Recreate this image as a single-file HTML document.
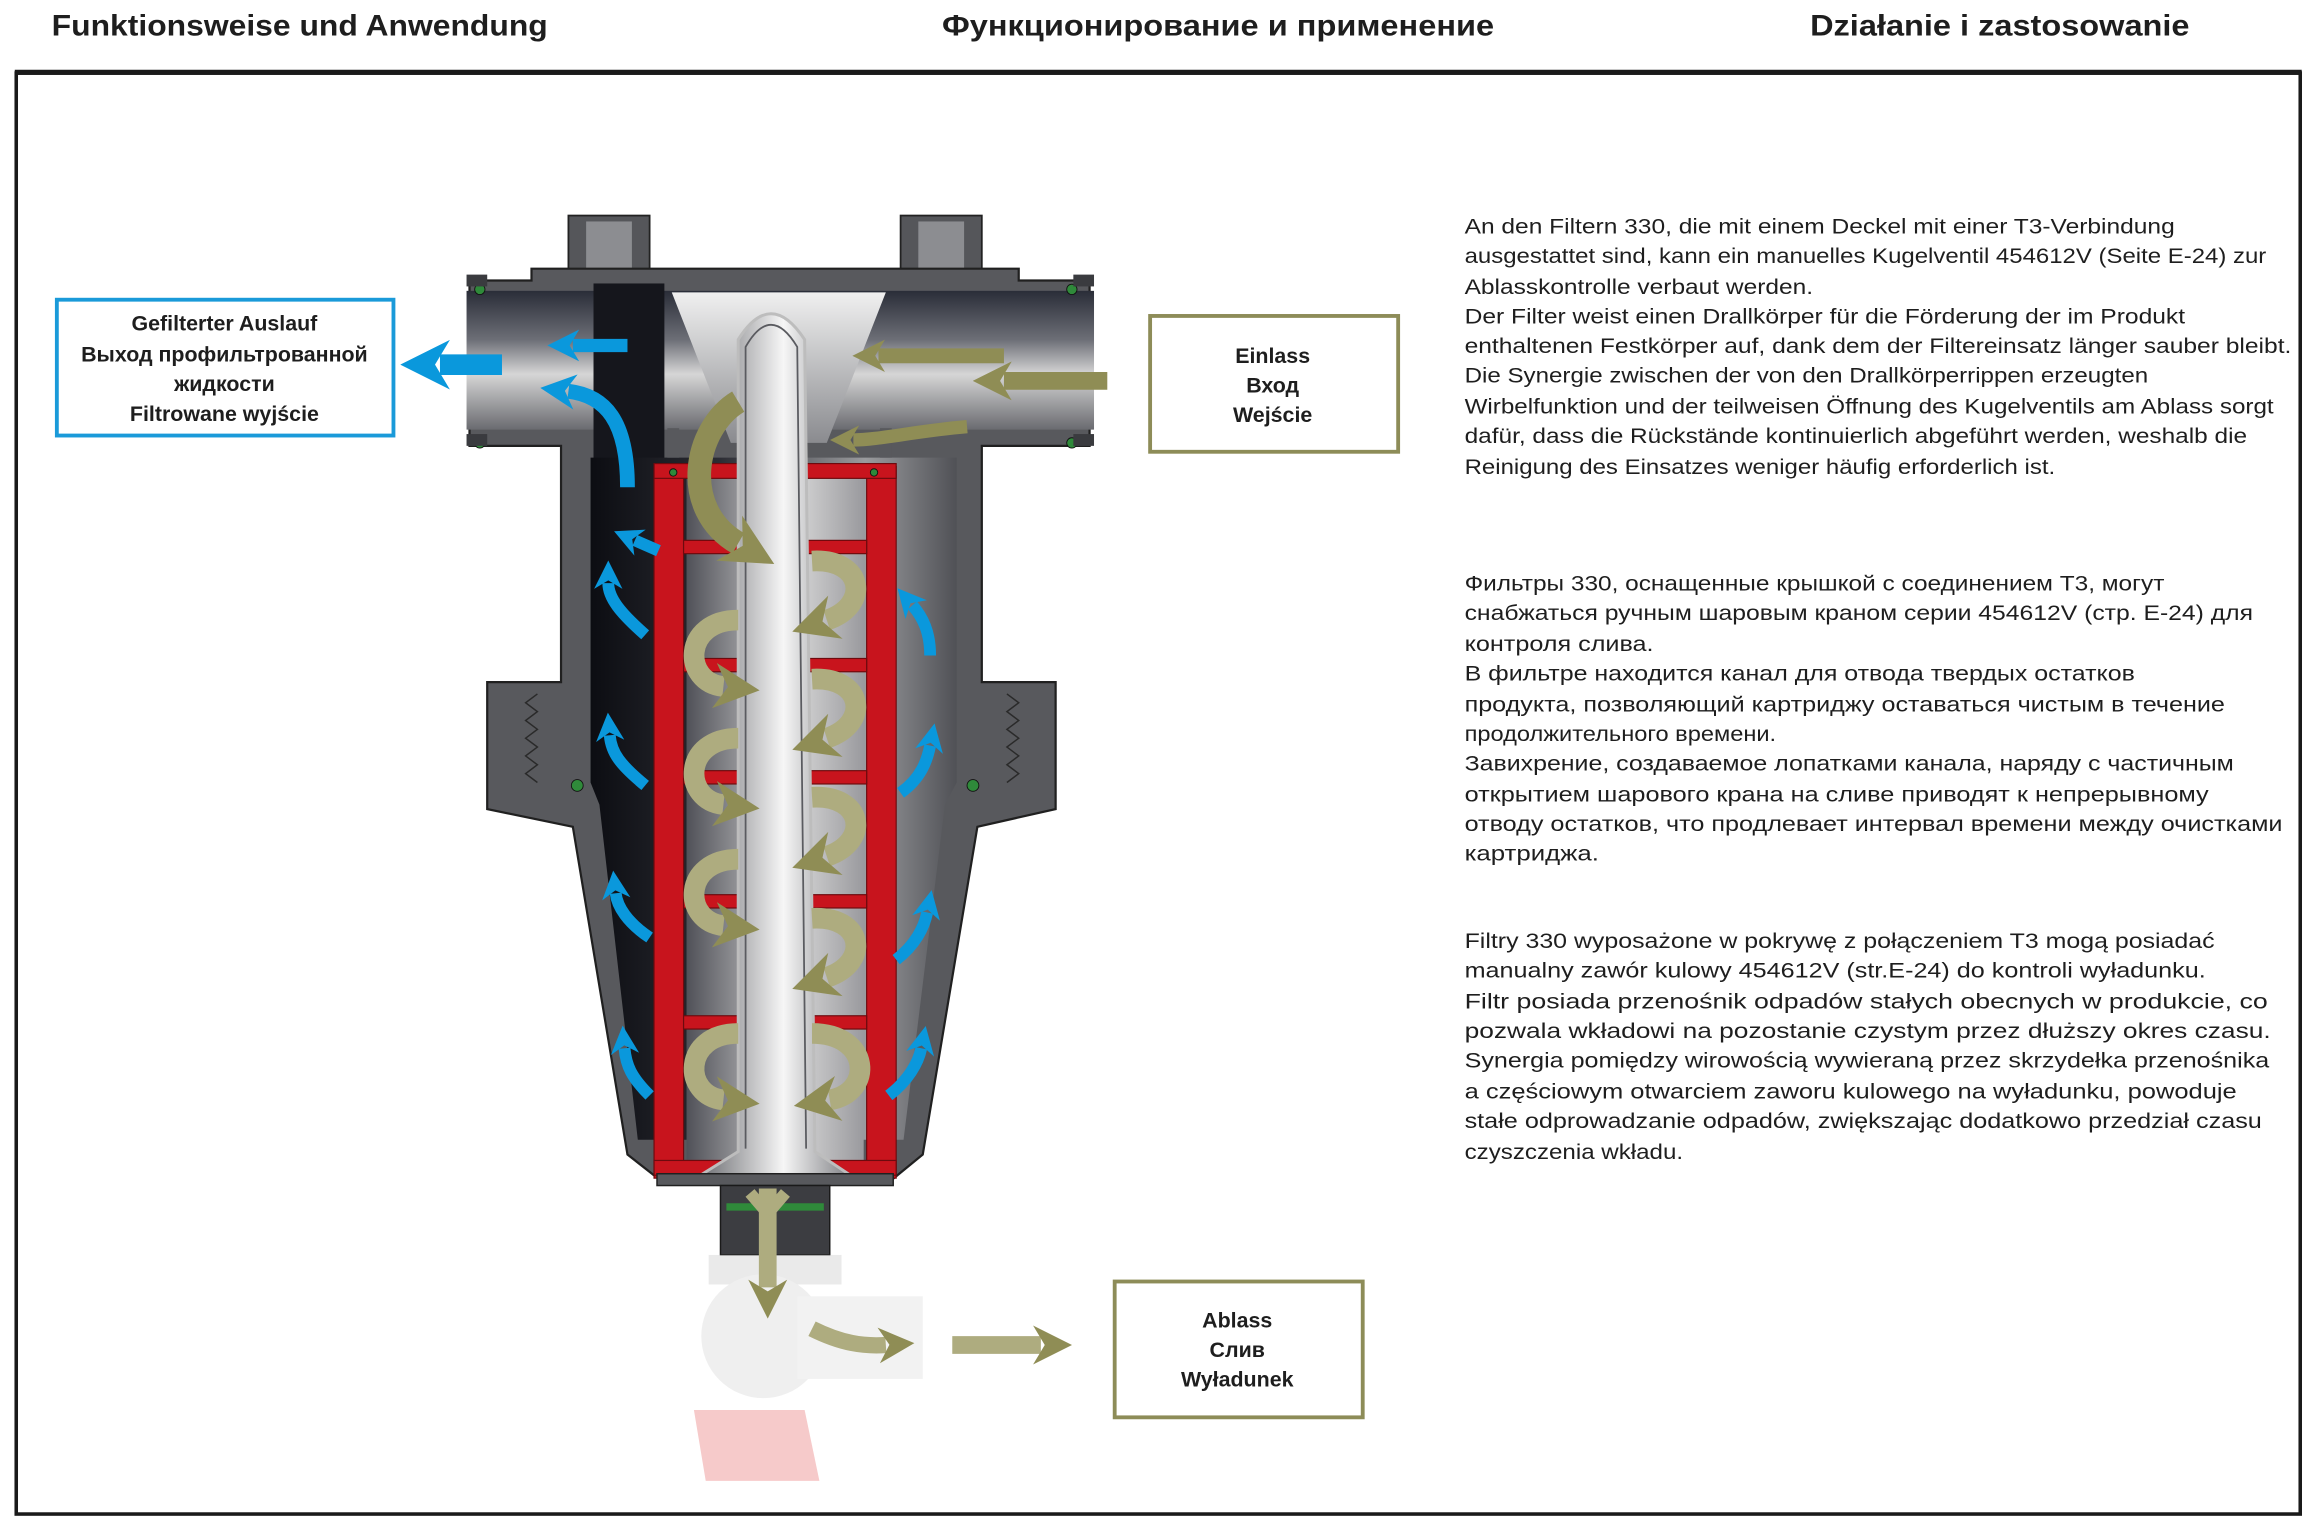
<!DOCTYPE html>
<html><head><meta charset="utf-8"><style>
html,body{margin:0;padding:0;background:#fff;}
svg{display:block;}
text{font-family:"Liberation Sans","DejaVu Sans",sans-serif;fill:#1e1e1e;}
</style></head><body>
<svg width="2315" height="1526" viewBox="0 0 1568 1033.6" preserveAspectRatio="none" xmlns="http://www.w3.org/2000/svg">
<defs>
<marker id="mb" viewBox="0 0 10 10" refX="2" refY="5" markerWidth="2.4" markerHeight="2.6" orient="auto" markerUnits="strokeWidth"><path d="M0,0 L10,5 L0,10 L3,5 Z" fill="#0a98dc"/></marker>
<marker id="mo" viewBox="0 0 10 10" refX="2" refY="5" markerWidth="2.2" markerHeight="2.4" orient="auto" markerUnits="strokeWidth"><path d="M0,0 L10,5 L0,10 L3,5 Z" fill="#8f8d55"/></marker>
<linearGradient id="pipe" x1="0" y1="0" x2="0" y2="1"><stop offset="0" stop-color="#2a2d38"/><stop offset="0.35" stop-color="#6c6e76"/><stop offset="0.6" stop-color="#d6d6d6"/><stop offset="1" stop-color="#6a6b70"/></linearGradient>
<linearGradient id="cav" x1="0" y1="0" x2="1" y2="0"><stop offset="0" stop-color="#0c0d12"/><stop offset="0.35" stop-color="#2b2c33"/><stop offset="0.75" stop-color="#9a9b9e"/><stop offset="1" stop-color="#505156"/></linearGradient>
<linearGradient id="tube" x1="0" y1="0" x2="1" y2="0"><stop offset="0" stop-color="#5d5e63"/><stop offset="0.55" stop-color="#f6f6f6"/><stop offset="1" stop-color="#707176"/></linearGradient>
<linearGradient id="mesh" x1="0" y1="0" x2="1" y2="0"><stop offset="0" stop-color="#505158"/><stop offset="0.6" stop-color="#d8d8d8"/><stop offset="1" stop-color="#9a9a9e"/></linearGradient>
<linearGradient id="cone" x1="0" y1="0" x2="0" y2="1"><stop offset="0" stop-color="#f0f0f0"/><stop offset="1" stop-color="#8a8b8f"/></linearGradient>
</defs>

<text x="35" y="24" font-size="20" font-weight="bold" textLength="336" lengthAdjust="spacingAndGlyphs">Funktionsweise und Anwendung</text>
<text x="638" y="24" font-size="20" font-weight="bold" textLength="374" lengthAdjust="spacingAndGlyphs">Функционирование и применение</text>
<text x="1226" y="24" font-size="20" font-weight="bold" textLength="257" lengthAdjust="spacingAndGlyphs">Działanie i zastosowanie</text>

<rect x="11" y="49.5" width="1547" height="976" fill="none" stroke="#1a1a1a" stroke-width="2.4"/>
<line x1="10" y1="49" x2="1559" y2="49" stroke="#1a1a1a" stroke-width="3.5"/>

<rect x="385" y="146" width="55" height="44" fill="#55565a" stroke="#222" stroke-width="1.2"/>
<rect x="397" y="150" width="31" height="38" fill="#8c8d91"/>
<rect x="610" y="146" width="55" height="44" fill="#55565a" stroke="#222" stroke-width="1.2"/>
<rect x="622" y="150" width="31" height="38" fill="#8c8d91"/>
<path d="M360,182 L690,182 L690,190 L738,190 L738,302 L665,302 L665,462 L715,462 L715,548 L662,560 L625,782 L603,800 L448,800 L425,782 L388,560 L330,548 L330,462 L380,462 L380,302 L318,302 L318,190 L360,190 Z" fill="#58595d" stroke="#202020" stroke-width="1.5"/>
<g stroke="#2a2a2a" stroke-width="1" fill="none">
<path d="M364,470 l-8,6 l8,6 l-8,6 l8,6 l-8,6 l8,6 l-8,6 l8,6 l-8,6 l8,6"/>
<path d="M682,470 l8,6 l-8,6 l8,6 l-8,6 l8,6 l-8,6 l8,6 l-8,6 l8,6 l-8,6"/>
</g>
<rect x="316" y="197" width="425" height="94" fill="url(#pipe)"/>
<rect x="402" y="192" width="48" height="120" fill="#15161c"/>
<path d="M400,310 L648,310 L648,530 L640,545 L612,772 L432,772 L406,545 L400,530 Z" fill="url(#cav)"/>
<rect x="465" y="322" width="120" height="468" fill="url(#mesh)"/>
<path d="M455,198 L600,198 L560,300 L495,300 Z" fill="url(#cone)"/>
<rect x="452" y="290" width="8" height="20" fill="#58595d"/>
<rect x="596" y="290" width="8" height="20" fill="#58595d"/>
<g fill="#c8141d" stroke="#6e0a0e" stroke-width="0.8">
<rect x="443" y="316" width="20" height="482"/>
<rect x="587" y="316" width="20" height="482"/>
<rect x="443" y="314" width="164" height="10"/>
<rect x="443" y="786" width="164" height="10"/>
<rect x="463" y="366" width="124" height="9"/>
<rect x="463" y="446" width="124" height="9"/>
<rect x="463" y="522" width="124" height="9"/>
<rect x="463" y="606" width="124" height="9"/>
<rect x="463" y="688" width="124" height="9"/>
</g>
<path d="M500,780 L500,230 Q522,195 545,230 L552,780 L582,800 L468,800 Z" fill="url(#tube)" stroke="#bdbdbd" stroke-width="2"/>
<path d="M505,778 L505,235 Q522,205 540,235 L546,778" fill="none" stroke="#5a5b60" stroke-width="1.2"/>
<rect x="445" y="795" width="160" height="8" fill="#58595d" stroke="#202020" stroke-width="1"/>
<path d="M488,803 L562,803 L562,850 L488,850 Z" fill="#3c3d41" stroke="#1a1a1a" stroke-width="1"/>
<rect x="492" y="815" width="66" height="5" fill="#2f8a3a"/>
<g opacity="0.55">
<rect x="480" y="850" width="90" height="20" fill="#d9d9d9"/>
<circle cx="517" cy="905" r="42" fill="#e2e2e2"/>
<rect x="540" y="878" width="85" height="56" fill="#e8e8e8"/>
<path d="M470,955 L545,955 L555,1003 L478,1003 Z" fill="#f0a0a0"/>
</g>
<g fill="#2f8a3a" stroke="#111" stroke-width="0.6">
<circle cx="325" cy="196" r="3.5"/><circle cx="325" cy="300" r="3.5"/>
<circle cx="726" cy="196" r="3.5"/><circle cx="726" cy="300" r="3.5"/>
<circle cx="391" cy="532" r="4"/><circle cx="659" cy="532" r="4"/>
<circle cx="456" cy="320" r="2.5"/><circle cx="592" cy="320" r="2.5"/>
</g>

<g fill="none" stroke="#0a98dc" stroke-linecap="butt">
<path d="M340,247 L298,247" stroke-width="14" marker-end="url(#mb)"/>
<path d="M425,234 L388,234" stroke-width="9" marker-end="url(#mb)"/>
<path d="M425,330 C425,285 410,268 385,265" stroke-width="10" marker-end="url(#mb)"/>
<path d="M446,373 L430,366" stroke-width="8" marker-end="url(#mb)"/>
<path d="M437,430 C420,415 412,405 412,395" stroke-width="8" marker-end="url(#mb)"/>
<path d="M437,532 C420,518 414,510 413,498" stroke-width="8" marker-end="url(#mb)"/>
<path d="M440,635 C425,625 418,614 417,605" stroke-width="8" marker-end="url(#mb)"/>
<path d="M440,742 C428,730 424,722 423,710" stroke-width="8" marker-end="url(#mb)"/>
<path d="M630,444 C630,428 625,418 618,410" stroke-width="8" marker-end="url(#mb)"/>
<path d="M610,537 C624,527 628,515 630,505" stroke-width="8" marker-end="url(#mb)"/>
<path d="M607,650 C620,640 626,628 628,618" stroke-width="8" marker-end="url(#mb)"/>
<path d="M602,742 C615,732 622,720 624,710" stroke-width="8" marker-end="url(#mb)"/>
</g>
<g fill="none" stroke="#8f8d55">
<path d="M750,258 L680,258" stroke-width="12" marker-end="url(#mo)"/>
<path d="M680,241 L595,241" stroke-width="10" marker-end="url(#mo)"/>
<path d="M655,289 C620,292 595,298 578,298" stroke-width="9" marker-end="url(#mo)"/>
<path d="M500,272 C470,290 460,345 500,368" stroke-width="16" marker-end="url(#mo)"/>
</g>
<g fill="none" stroke="#aeac7f" stroke-width="14">
<path d="M550,380 C585,378 590,410 560,420" marker-end="url(#mo)"/>
<path d="M500,420 C462,420 462,462 490,465" marker-end="url(#mo)"/>
<path d="M550,460 C585,458 590,490 560,500" marker-end="url(#mo)"/>
<path d="M500,500 C462,500 462,542 490,545" marker-end="url(#mo)"/>
<path d="M550,540 C585,538 590,570 560,580" marker-end="url(#mo)"/>
<path d="M500,582 C462,582 462,624 490,627" marker-end="url(#mo)"/>
<path d="M550,622 C585,620 590,652 560,662" marker-end="url(#mo)"/>
<path d="M500,700 C462,700 462,742 490,745" marker-end="url(#mo)"/>
<path d="M550,700 C590,700 592,740 562,745" marker-end="url(#mo)"/>
<path d="M520,805 L520,872" stroke-width="12" marker-end="url(#mo)"/>
<path d="M520,822 L508,808 M520,822 L532,808" stroke-width="8"/>
<path d="M550,900 C570,910 585,912 600,911" stroke-width="11" marker-end="url(#mo)"/>
<path d="M645,911 L705,911" stroke-width="12" marker-end="url(#mo)"/>
</g>

<rect x="38.5" y="203" width="228" height="92" fill="#fff" stroke="#1a9ad9" stroke-width="2.6"/>
<g font-size="14.5" font-weight="bold" text-anchor="middle">
<text x="152" y="224">Gefilterter Auslauf</text>
<text x="152" y="245">Выход профильтрованной</text>
<text x="152" y="265">жидкости</text>
<text x="152" y="285">Filtrowane wyjście</text>
</g>
<rect x="779" y="214" width="168" height="92" fill="#fff" stroke="#8d8c58" stroke-width="2.6"/>
<g font-size="14.5" font-weight="bold" text-anchor="middle">
<text x="862" y="246">Einlass</text>
<text x="862" y="266">Вход</text>
<text x="862" y="286">Wejście</text>
</g>
<rect x="755" y="868" width="168" height="92" fill="#fff" stroke="#8d8c58" stroke-width="2.6"/>
<g font-size="14.5" font-weight="bold" text-anchor="middle">
<text x="838" y="899">Ablass</text>
<text x="838" y="919">Слив</text>
<text x="838" y="939">Wyładunek</text>
</g>

<g font-size="14.5">
<text x="992" y="158" textLength="481" lengthAdjust="spacingAndGlyphs">An den Filtern 330, die mit einem Deckel mit einer T3-Verbindung</text>
<text x="992" y="178" textLength="543" lengthAdjust="spacingAndGlyphs">ausgestattet sind, kann ein manuelles Kugelventil 454612V (Seite E-24) zur</text>
<text x="992" y="199" textLength="236" lengthAdjust="spacingAndGlyphs">Ablasskontrolle verbaut werden.</text>
<text x="992" y="219" textLength="488" lengthAdjust="spacingAndGlyphs">Der Filter weist einen Drallkörper für die Förderung der im Produkt</text>
<text x="992" y="239" textLength="560" lengthAdjust="spacingAndGlyphs">enthaltenen Festkörper auf, dank dem der Filtereinsatz länger sauber bleibt.</text>
<text x="992" y="259" textLength="463" lengthAdjust="spacingAndGlyphs">Die Synergie zwischen der von den Drallkörperrippen erzeugten</text>
<text x="992" y="280" textLength="548" lengthAdjust="spacingAndGlyphs">Wirbelfunktion und der teilweisen Öffnung des Kugelventils am Ablass sorgt</text>
<text x="992" y="300" textLength="530" lengthAdjust="spacingAndGlyphs">dafür, dass die Rückstände kontinuierlich abgeführt werden, weshalb die</text>
<text x="992" y="321" textLength="400" lengthAdjust="spacingAndGlyphs">Reinigung des Einsatzes weniger häufig erforderlich ist.</text>

<text x="992" y="400" textLength="474" lengthAdjust="spacingAndGlyphs">Фильтры 330, оснащенные крышкой с соединением Т3, могут</text>
<text x="992" y="420" textLength="534" lengthAdjust="spacingAndGlyphs">снабжаться ручным шаровым краном серии 454612V (стр. Е-24) для</text>
<text x="992" y="441" textLength="128" lengthAdjust="spacingAndGlyphs">контроля слива.</text>
<text x="992" y="461" textLength="454" lengthAdjust="spacingAndGlyphs">В фильтре находится канал для отвода твердых остатков</text>
<text x="992" y="482" textLength="515" lengthAdjust="spacingAndGlyphs">продукта, позволяющий картриджу оставаться чистым в течение</text>
<text x="992" y="502" textLength="211" lengthAdjust="spacingAndGlyphs">продолжительного времени.</text>
<text x="992" y="522" textLength="521" lengthAdjust="spacingAndGlyphs">Завихрение, создаваемое лопатками канала, наряду с частичным</text>
<text x="992" y="543" textLength="504" lengthAdjust="spacingAndGlyphs">открытием шарового крана на сливе приводят к непрерывному</text>
<text x="992" y="563" textLength="554" lengthAdjust="spacingAndGlyphs">отводу остатков, что продлевает интервал времени между очистками</text>
<text x="992" y="583" textLength="91" lengthAdjust="spacingAndGlyphs">картриджа.</text>

<text x="992" y="642" textLength="508" lengthAdjust="spacingAndGlyphs">Filtry 330 wyposażone w pokrywę z połączeniem T3 mogą posiadać</text>
<text x="992" y="662" textLength="502" lengthAdjust="spacingAndGlyphs">manualny zawór kulowy 454612V (str.E-24) do kontroli wyładunku.</text>
<text x="992" y="683" textLength="544" lengthAdjust="spacingAndGlyphs">Filtr posiada przenośnik odpadów stałych obecnych w produkcie, co</text>
<text x="992" y="703" textLength="546" lengthAdjust="spacingAndGlyphs">pozwala wkładowi na pozostanie czystym przez dłuższy okres czasu.</text>
<text x="992" y="723" textLength="545" lengthAdjust="spacingAndGlyphs">Synergia pomiędzy wirowością wywieraną przez skrzydełka przenośnika</text>
<text x="992" y="744" textLength="523" lengthAdjust="spacingAndGlyphs">a częściowym otwarciem zaworu kulowego na wyładunku, powoduje</text>
<text x="992" y="764" textLength="540" lengthAdjust="spacingAndGlyphs">stałe odprowadzanie odpadów, zwiększając dodatkowo przedział czasu</text>
<text x="992" y="785" textLength="148" lengthAdjust="spacingAndGlyphs">czyszczenia wkładu.</text>
</g>
<g fill="#3a3b3f">
<rect x="316" y="186" width="14" height="8"/><rect x="727" y="186" width="14" height="8"/>
<rect x="316" y="294" width="14" height="8"/><rect x="727" y="294" width="14" height="8"/>
</g>
</svg>
</body></html>
